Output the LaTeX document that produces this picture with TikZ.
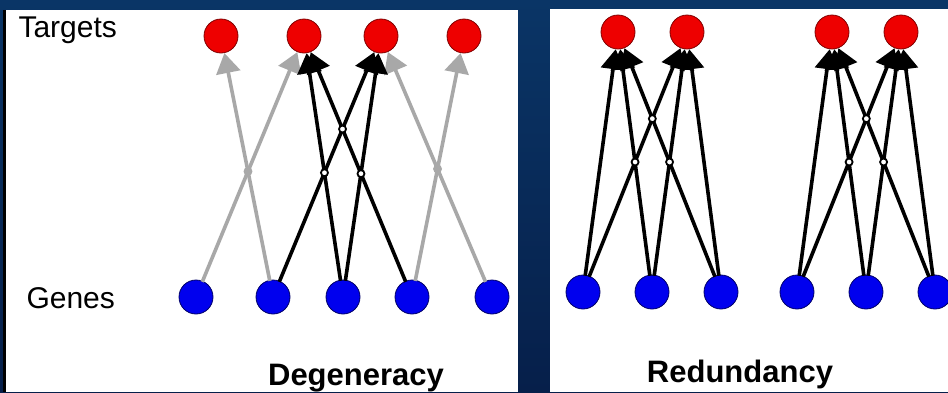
\documentclass[tikz,border=0pt]{standalone}
\usepackage{fontspec}
\setmainfont{Liberation Sans}
\usetikzlibrary{arrows.meta}
\definecolor{navy}{HTML}{0A3566}
\definecolor{navydark}{HTML}{061F4A}
\definecolor{targetred}{HTML}{EE0000}
\definecolor{geneblue}{HTML}{0000EE}
\definecolor{weakgray}{HTML}{A8A8A8}
\tikzset{
    target/.style={circle, fill=targetred, draw=red!50!black, line width=0.8pt, minimum size=34pt, inner sep=0pt},
    gene/.style={circle, fill=geneblue, draw=blue!40!black, line width=0.8pt, minimum size=34pt, inner sep=0pt},
    link/.style={line width=3.6pt, -{Triangle[length=20pt,width=24pt]}, shorten <=-1pt},
    weak/.style={link, weakgray},
    hop/.style={circle, draw, line width=1.8pt, fill=white, minimum size=7pt, inner sep=0pt},
    label/.style={font=\fontsize{30}{36}\selectfont, anchor=base west},
    title/.style={font=\fontsize{31}{37}\selectfont\bfseries, anchor=base}
}
\begin{document}
\begin{tikzpicture}[x=1pt, y=-1pt]
    \useasboundingbox (0,0) rectangle (948,392);
    \clip (0,0) rectangle (948,392);
    \shade[top color=navy, bottom color=navydark] (0,0) rectangle (948,392);
    \fill[black] (3,10) rectangle (6,392);
    \fill[white] (6,10) rectangle (518,392);
    \fill[white] (550,9) rectangle (948,392);

    % Degeneracy
    \node[label] (targets) at (15,37) {Targets};
    \node[label] (genes) at (23,308) {Genes};
    \node[target] (t1) at (221,36) {};
    \node[target] (t2) at (304,36) {};
    \node[target] (t3) at (381,36) {};
    \node[target] (t4) at (464,36) {};
    \node[gene] (g1) at (196,297) {};
    \node[gene] (g2) at (273,297) {};
    \node[gene] (g3) at (343,297) {};
    \node[gene] (g4) at (412,297) {};
    \node[gene] (g5) at (492,297) {};
    \draw[weak] (g1) -- (t2);
    \draw[weak] (g2) -- (t1);
    \draw[weak] (g4) -- (t4);
    \draw[weak] (g5) -- (t3);
    \node[hop, weakgray] at (intersection of g1--t2 and g2--t1) {};
    \node[hop, weakgray] at (intersection of g4--t4 and g5--t3) {};
    \draw[link] (g2) -- (t3);
    \draw[link] (g3) -- (t2);
    \draw[link] (g3) -- (t3);
    \draw[link] (g4) -- (t2);
    \node[hop] at (intersection of g2--t3 and g3--t2) {};
    \node[hop] at (intersection of g2--t3 and g4--t2) {};
    \node[hop] at (intersection of g3--t3 and g4--t2) {};
    \node[title] (degeneracy) at (356,385) {Degeneracy};

    % Redundancy
    \node[target] (r1) at (618,32) {};
    \node[target] (r2) at (687,32) {};
    \node[target] (r3) at (832,32) {};
    \node[target] (r4) at (901,32) {};
    \node[gene] (s1) at (583,292) {};
    \node[gene] (s2) at (652,292) {};
    \node[gene] (s3) at (721,292) {};
    \node[gene] (s4) at (797,292) {};
    \node[gene] (s5) at (866,292) {};
    \node[gene] (s6) at (935,292) {};
    \foreach \s in {s1,s2,s3} {
        \draw[link] (\s) -- (r1);
        \draw[link] (\s) -- (r2);
    }
    \foreach \s in {s4,s5,s6} {
        \draw[link] (\s) -- (r3);
        \draw[link] (\s) -- (r4);
    }
    \node[hop] at (intersection of s1--r2 and s2--r1) {};
    \node[hop] at (intersection of s1--r2 and s3--r1) {};
    \node[hop] at (intersection of s2--r2 and s3--r1) {};
    \node[hop] at (intersection of s4--r4 and s5--r3) {};
    \node[hop] at (intersection of s4--r4 and s6--r3) {};
    \node[hop] at (intersection of s5--r4 and s6--r3) {};
    \node[title] (redundancy) at (740,382) {Redundancy};
\end{tikzpicture}
\end{document}
